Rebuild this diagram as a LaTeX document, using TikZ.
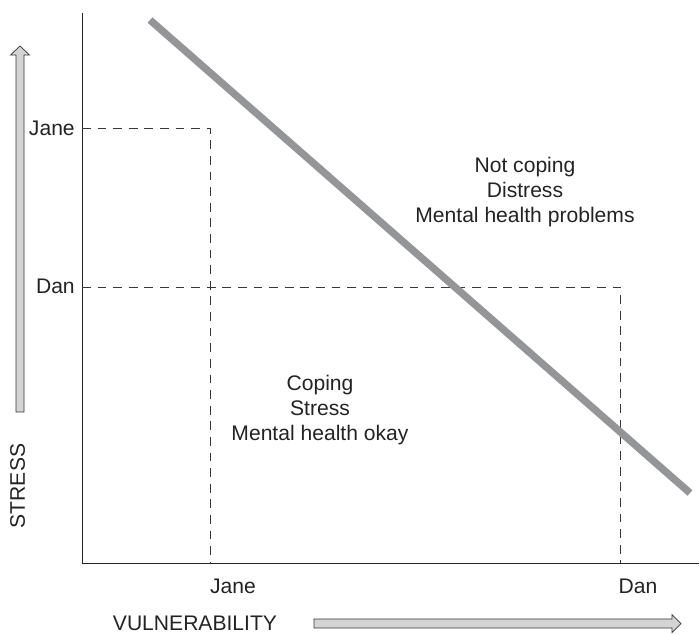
\documentclass[tikz,border=0pt]{standalone}
\usepackage{fontspec}
\setmainfont{Liberation Sans}
\definecolor{linegrey}{RGB}{148,149,153}
\definecolor{arrowfill}{RGB}{212,212,214}
\definecolor{darkline}{RGB}{55,55,55}
\definecolor{textgrey}{RGB}{35,35,35}
\begin{document}
\begin{tikzpicture}[x=0.025cm,y=-0.025cm,
    lbl/.style={font=\fontsize{15pt}{18pt}\selectfont, inner sep=0pt, text=textgrey},
    block/.style={lbl, align=center, font=\fontsize{15pt}{18.1pt}\selectfont},
    guide/.style={darkline, line width=0.6pt, dash pattern=on 0.22cm off 0.17cm},
    fatarrow/.style={draw=darkline, fill=arrowfill, line width=0.5pt, line join=miter}]
    \useasboundingbox (0,0) rectangle (700,634);
    % axes
    \coordinate (ytop) at (82,13);
    \coordinate (O) at (82,563);
    \coordinate (xend) at (699,563);
    \draw[line width=0.7pt,black!85] (ytop) -- (O) -- (xend);
    % Jane and Dan
    \coordinate (janeS) at (82,128);
    \coordinate (janeC) at (210,128);
    \coordinate (janeV) at (210,563);
    \coordinate (danS) at (82,287);
    \coordinate (danC) at (620,287);
    \coordinate (danV) at (620,563);
    \draw[guide] (janeS) -- (janeC) -- (janeV);
    \draw[guide] (danS) -- (danC) -- (danV);
    \node[lbl,anchor=base east] (janeY) at (75,135) {Jane};
    \node[lbl,anchor=base east] (danY) at (75,293) {Dan};
    \node[lbl,anchor=base] (janeX) at (233,593) {Jane};
    \node[lbl,anchor=base] (danX) at (638,593) {Dan};
    % threshold line
    \coordinate (lineA) at (150,20);
    \coordinate (lineB) at (690,493);
    \draw[linegrey,line width=5.2pt] (lineA) -- (lineB);
    \node[block] (notcoping) at (525,192) {Not coping\\Distress\\Mental health problems};
    \node[block] (coping) at (320,410) {Coping\\Stress\\Mental health okay};
    % axis arrows
    \draw[fatarrow] (16,412) -- (16,55) -- (10.5,55) -- (20,46) -- (29.5,55) -- (24,55) -- (24,412) -- cycle;
    \node[lbl,rotate=90,anchor=base] (stress) at (25,486) {STRESS};
    \draw[fatarrow] (314,619) -- (672,619) -- (672,614.5) -- (681,623.5) -- (672,632.5) -- (672,628) -- (314,628) -- cycle;
    \node[lbl,anchor=base] (vuln) at (195,630) {VULNERABILITY};
\end{tikzpicture}
\end{document}
